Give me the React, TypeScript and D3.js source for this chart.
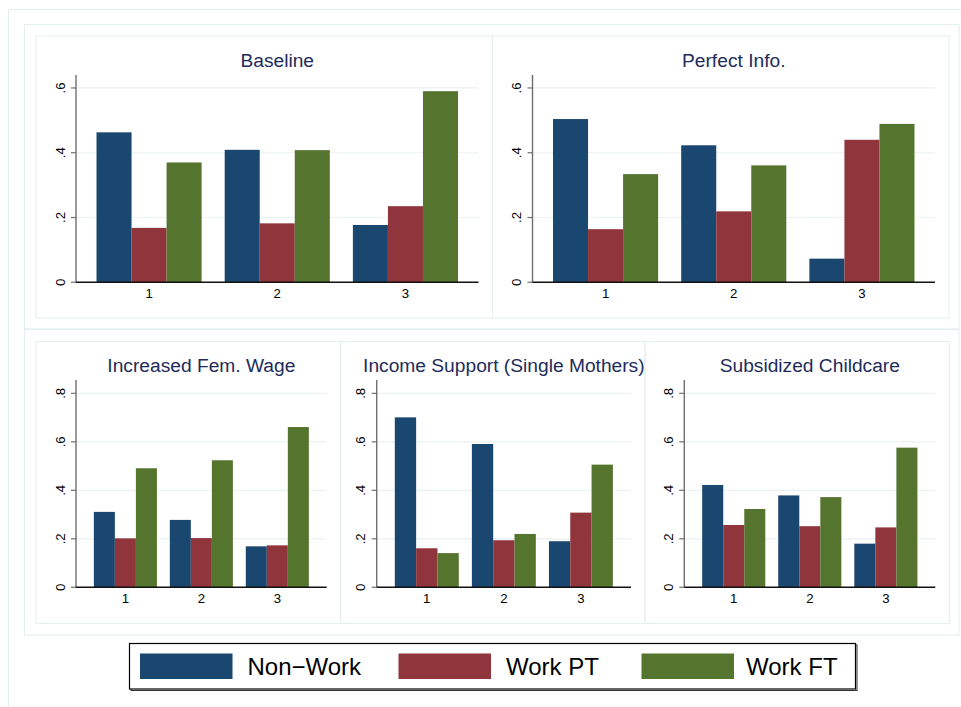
import React from "react";
import * as d3 from "d3";

const categories = ["1", "2", "3"];
const seriesNames = ["Non\u2212Work", "Work PT", "Work FT"];
const seriesColors = ["#1a476f", "#90353b", "#55752f"];

// values per series: [Non-Work, Work PT, Work FT], each across categories 1..3
const baselineValues = [
  [0.463, 0.409, 0.177],
  [0.168, 0.182, 0.235],
  [0.37, 0.408, 0.59],
];
const perfectInfoValues = [
  [0.504, 0.423, 0.073],
  [0.164, 0.219, 0.44],
  [0.334, 0.361, 0.489],
];
const femWageValues = [
  [0.311, 0.278, 0.169],
  [0.202, 0.203, 0.173],
  [0.491, 0.524, 0.661],
];
const incomeSupportValues = [
  [0.701, 0.591, 0.19],
  [0.161, 0.194, 0.308],
  [0.141, 0.22, 0.506],
];
const childcareValues = [
  [0.422, 0.379, 0.18],
  [0.257, 0.252, 0.247],
  [0.323, 0.372, 0.576],
];

const topTicks = [0, 0.2, 0.4, 0.6];
const bottomTicks = [0, 0.2, 0.4, 0.6, 0.8];
const tickLabel = (v: number) => (v === 0 ? "0" : d3.format(".1f")(v).replace(/^0/, ""));

const FONT = "'Liberation Sans', Arial, Helvetica, sans-serif";
const FRAME = "#e6eef0";
const GRID = "#eaf2f3";
const TITLE = "#1e2c5a";

type PanelSpec = {
  title: string;
  values: number[][];
  x: number;
  y: number;
  w: number;
  h: number;
  axisLeft: number;
  top: number;
  zero: number;
  ymax: number;
  ticks: number[];
  padIn: number;
  padOut: number;
};

function Panel({ p }: { p: PanelSpec }) {
  const x0 = p.x + p.axisLeft;
  const x1 = p.x + p.w - 14;
  const y = d3.scaleLinear().domain([0, p.ymax]).range([p.zero, p.top]);
  const xb = d3.scaleBand().domain(categories).range([x0, x1]).paddingInner(p.padIn).paddingOuter(p.padOut);
  const xs = d3.scaleBand().domain(d3.range(seriesNames.length).map(String)).range([0, xb.bandwidth()]);
  return (
    <g>
      <rect x={p.x} y={p.y} width={p.w} height={p.h} fill="none" stroke={FRAME} strokeWidth={1} />
      <text x={(x0 + x1) / 2} y={p.top - 8} textAnchor="middle" fontFamily={FONT} fontSize={19.2} fill={TITLE}>
        {p.title}
      </text>
      {p.ticks.filter((t) => t > 0).map((t) => (
        <line key={t} x1={x0} x2={x1} y1={y(t)} y2={y(t)} stroke={GRID} strokeWidth={1.2} />
      ))}
      {p.values.map((row, si) =>
        row.map((v, ci) => (
          <rect
            key={si + "-" + ci}
            x={(xb(categories[ci]) as number) + (xs(String(si)) as number)}
            y={y(v)}
            width={xs.bandwidth()}
            height={y(0) - y(v)}
            fill={seriesColors[si]}
          />
        ))
      )}
      <line x1={x0} x2={x0} y1={p.zero} y2={p.top} stroke="#6f6f6f" strokeWidth={1.4} />
      {p.ticks.map((t) => (
        <g key={t}>
          <line x1={x0 - 5} x2={x0} y1={y(t)} y2={y(t)} stroke="#6f6f6f" strokeWidth={1.2} />
          <text
            transform={`translate(${x0 - 11.5},${y(t)}) rotate(-90)`}
            textAnchor="middle"
            fontFamily={FONT}
            fontSize={13.2}
            fill="#000"
          >
            {tickLabel(t)}
          </text>
        </g>
      ))}
      <line x1={x0} x2={x1} y1={p.zero} y2={p.zero} stroke="#111" strokeWidth={1.4} />
      {categories.map((c) => (
        <text
          key={c}
          x={(xb(c) as number) + xb.bandwidth() / 2}
          y={p.zero + 15.8}
          textAnchor="middle"
          fontFamily={FONT}
          fontSize={13.2}
          fill="#000"
        >
          {c}
        </text>
      ))}
    </g>
  );
}

export default function App() {
  const topCommon = { y: 36, h: 282, axisLeft: 40, top: 75, zero: 282.3, ymax: 0.64, ticks: topTicks, padIn: 0.18, padOut: 0.16 };
  const botCommon = { y: 341.5, h: 282, top: 380, zero: 587.3, ymax: 0.855, ticks: bottomTicks, padIn: 0.17, padOut: 0.235 };
  const panels: PanelSpec[] = [
    { ...topCommon, title: "Baseline", values: baselineValues, x: 36, w: 456.5 },
    { ...topCommon, title: "Perfect Info.", values: perfectInfoValues, x: 492.5, w: 456.5 },
    { ...botCommon, title: "Increased Fem. Wage", values: femWageValues, x: 36, w: 304.7, axisLeft: 40 },
    { ...botCommon, title: "Income Support (Single Mothers)", values: incomeSupportValues, x: 340.7, w: 304.3, axisLeft: 36 },
    { ...botCommon, title: "Subsidized Childcare", values: childcareValues, x: 645, w: 304.3, axisLeft: 39.3 },
  ];
  const legendSwatchX = [140, 398.5, 641.5];
  const legendTextX = [247.5, 506, 746];
  return (
    <svg
      width={961}
      height={707}
      style={{ position: "absolute", left: 0, top: 0, background: "#fff" }}
    >
      <rect x={0} y={0} width={961} height={707} fill="#fff" />
      <rect x={8.5} y={9.5} width={960} height={710} fill="none" stroke={FRAME} strokeWidth={1.2} />
      <rect x={24.5} y={24.5} width={934.5} height={304.5} fill="none" stroke={FRAME} strokeWidth={1.2} />
      <rect x={24.5} y={329.5} width={934.5} height={305.5} fill="none" stroke={FRAME} strokeWidth={1.2} />
      {panels.map((p) => (
        <Panel key={p.title} p={p} />
      ))}
      <rect x={131} y={645} width={726} height={45.5} fill="none" stroke="#333" strokeWidth={1} />
      <rect x={129.5} y={643.5} width={726} height={45.5} fill="#fff" stroke="#000" strokeWidth={1.2} />
      {seriesNames.map((s, i) => (
        <g key={s}>
          <rect x={legendSwatchX[i]} y={653.5} width={92.5} height={25.5} fill={seriesColors[i]} />
          <text x={legendTextX[i]} y={675} fontFamily={FONT} fontSize={24} fill="#000">
            {s}
          </text>
        </g>
      ))}
    </svg>
  );
}
